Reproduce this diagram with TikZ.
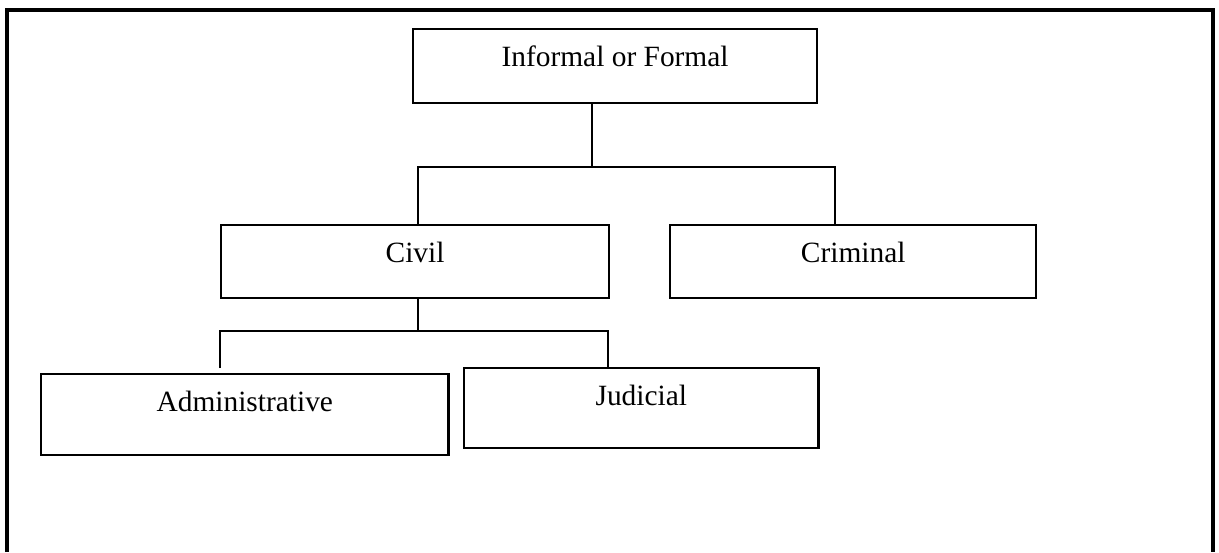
\documentclass[tikz,border=0pt]{standalone}
\usepackage{fontspec}
\setmainfont{Liberation Serif}
\usepackage{tikz}

\tikzset{
  box/.style={draw, line width=1pt, inner sep=0pt, anchor=north west,
    text height=15.2pt, font=\fontsize{12}{14}\selectfont},
  link/.style={line width=0.9pt}
}

\begin{document}
\begin{tikzpicture}[x=0.01434cm, y=-0.01434cm]
			\useasboundingbox (0,0) rectangle (1219,552);
			% ========== outer frame ==========
			\draw[line width=1.3pt] (7,552) -- (7,10) -- (1213,10) -- (1213,552);
			
			% ========== boxes ==========
			\node[box, minimum width=5.79cm, text depth=15pt] (kind) at (412,28) {Informal or Formal};
			\node[box, minimum width=5.56cm, text depth=14.6pt] (civil) at (220,224) {Civil};
			\node[box, minimum width=5.25cm, text depth=14.6pt] (criminal) at (669,224) {Criminal};
			\node[box, minimum width=5.84cm, text depth=17.8pt] (admin) at (40,373) {Administrative};
			\node[box, minimum width=5.08cm, text depth=17.4pt] (judicial) at (463,367) {Judicial};
			
			% ========== first split ==========
			\coordinate (fork1) at (592,167);
			\coordinate (left1) at (418,167);
			\coordinate (right1) at (835,167);
			\draw[link] (kind.south -| fork1) -- (fork1);
			\draw[link] (civil.north -| left1) -- (left1) -- (right1) -- (criminal.north -| right1);
			
			% ========== second split ==========
			\coordinate (fork2) at (418,331);
			\coordinate (left2) at (220,331);
			\coordinate (right2) at (608,331);
			\coordinate (adminend) at (220,368);
			\draw[link] (civil.south -| fork2) -- (fork2);
			\draw[link] (adminend) -- (left2) -- (right2) -- (judicial.north -| right2);
		\end{tikzpicture}
\end{document}
